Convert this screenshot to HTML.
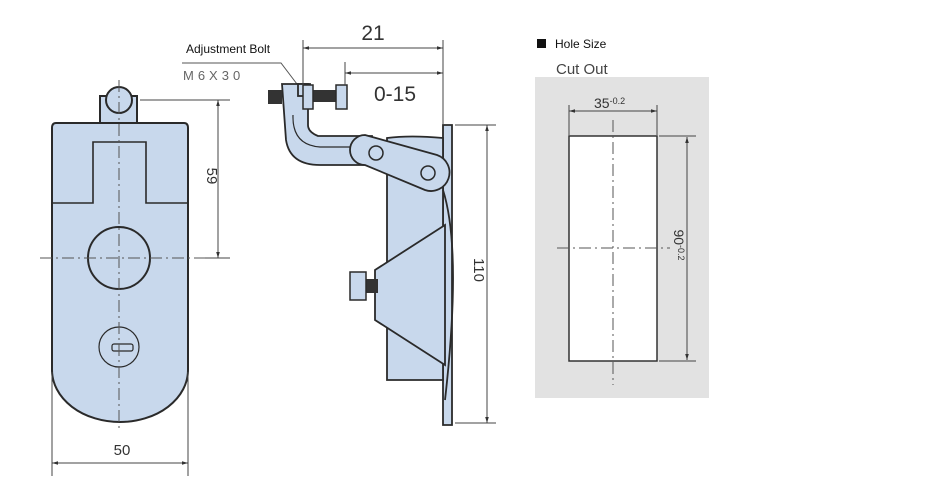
<!DOCTYPE html>
<html><head><style>
html,body{margin:0;padding:0;background:#fff;}
svg{display:block;}
text{font-family:"Liberation Sans",sans-serif;}
</style></head><body>
<svg width="950" height="500" viewBox="0 0 950 500" xmlns="http://www.w3.org/2000/svg">
<defs>
<marker id="a" viewBox="0 0 10 10" refX="10" refY="5" markerWidth="8" markerHeight="6" orient="auto-start-reverse"><path d="M0,2 L10,5 L0,8 z" fill="#333"/></marker>
</defs>
<g fill="#c8d8ec" stroke="#2a2a2a" stroke-width="2">
<!-- left front view -->
<rect x="100" y="96" width="37" height="34"/>
<circle cx="119" cy="100" r="13"/>
<path d="M56,123 H184 Q188,123 188,128 V370 A68,52 0 0 1 52,370 V128 Q52,123 56,123 Z"/>
</g>
<g fill="none" stroke="#2a2a2a">
<path d="M52,203 H93 V142 H146 V203 H188" stroke-width="1.6"/>
<circle cx="119" cy="258" r="31" stroke-width="2"/>
<circle cx="119" cy="347" r="20" stroke-width="1.2"/>
<rect x="112" y="344" width="21" height="7" rx="2" stroke-width="1.2"/>
</g>
<g stroke="#555" stroke-width="1" stroke-dasharray="12,4,2,4" fill="none">
<line x1="119" y1="80" x2="119" y2="432"/>
<line x1="40" y1="258" x2="228" y2="258"/>
</g>
<g stroke="#444" stroke-width="1" fill="none">
<line x1="140" y1="100" x2="230" y2="100"/>
<line x1="205" y1="258" x2="230" y2="258"/>
<line x1="218" y1="100" x2="218" y2="258" marker-start="url(#a)" marker-end="url(#a)"/>
<line x1="52" y1="372" x2="52" y2="476"/>
<line x1="188" y1="372" x2="188" y2="476"/>
<line x1="52" y1="463" x2="188" y2="463" marker-start="url(#a)" marker-end="url(#a)"/>
</g>
<text x="122" y="455" font-size="15" fill="#333" text-anchor="middle">50</text>
<text transform="translate(207,176) rotate(90)" font-size="15" fill="#333" text-anchor="middle">59</text>
<!-- labels -->
<text x="186" y="53" font-size="12" fill="#111">Adjustment Bolt</text>
<text x="183" y="80" font-size="13" fill="#666" letter-spacing="4">M6X30</text>
<path d="M182,63 H281 L300,88" fill="none" stroke="#555" stroke-width="1"/>

<!-- side view -->
<g fill="#c8d8ec" stroke="#2a2a2a" stroke-width="1.8">
<path d="M443,125 H452 V425 H443 Z"/>
<path d="M387,138 Q410,135 443,138 V380 H387 Z"/>
<path d="M375,270 L445,225 V365 L375,320 Z"/>
<path d="M443,190 Q462,250 445,400" fill="none"/>
<path d="M282,84 H308 V125 Q308,132 318,136 H372 V165 H320 Q290,165 286,140 Z"/>
<path d="M365,135 L437,155 A17,17 0 0 1 425,190 L365,165 A15,15 0 0 1 365,135 Z"/>
<rect x="298" y="84" width="12" height="12"/>
</g>
<path d="M293,115 Q292,145 320,147 H350" fill="none" stroke="#2a2a2a" stroke-width="1.2"/>
<g fill="#333">
<rect x="268" y="90" width="14" height="14"/>
<rect x="310" y="90" width="27" height="12"/>
<rect x="366" y="279" width="12" height="14"/>
</g>
<g fill="#c8d8ec" stroke="#2a2a2a" stroke-width="1.5">
<rect x="303" y="85" width="10" height="24"/>
<rect x="336" y="85" width="11" height="24"/>
<rect x="350" y="272" width="16" height="28"/>
<circle cx="376" cy="153" r="7"/>
<circle cx="428" cy="173" r="7"/>
</g>
<g stroke="#444" stroke-width="1" fill="none">
<line x1="303" y1="40" x2="303" y2="85"/>
<line x1="345" y1="62" x2="345" y2="85"/>
<line x1="443" y1="40" x2="443" y2="124"/>
<line x1="303" y1="48" x2="443" y2="48" marker-start="url(#a)" marker-end="url(#a)"/>
<line x1="345" y1="73" x2="443" y2="73" marker-start="url(#a)" marker-end="url(#a)"/>
<line x1="455" y1="125" x2="496" y2="125"/>
<line x1="455" y1="423" x2="496" y2="423"/>
<line x1="487" y1="125" x2="487" y2="423" marker-start="url(#a)" marker-end="url(#a)"/>
</g>
<text x="373" y="40" font-size="21" fill="#333" text-anchor="middle">21</text>
<text x="395" y="101" font-size="21" fill="#333" text-anchor="middle">0-15</text>
<text transform="translate(474,270) rotate(90)" font-size="15" fill="#333" text-anchor="middle">110</text>

<!-- cut out -->
<rect x="537" y="39" width="9" height="9" fill="#111"/>
<text x="555" y="48" font-size="12" fill="#111">Hole Size</text>
<text x="556" y="74" font-size="15" fill="#444">Cut Out</text>
<rect x="535" y="77" width="174" height="321" fill="#e2e2e2"/>
<rect x="569" y="136" width="88" height="225" fill="#fff" stroke="#333" stroke-width="1.5"/>
<g stroke="#555" stroke-width="1" stroke-dasharray="12,4,2,4">
<line x1="613" y1="120" x2="613" y2="385"/>
<line x1="557" y1="248" x2="670" y2="248"/>
</g>
<g stroke="#444" stroke-width="1" fill="none">
<line x1="569" y1="105" x2="569" y2="135"/>
<line x1="657" y1="105" x2="657" y2="135"/>
<line x1="569" y1="111" x2="657" y2="111" marker-start="url(#a)" marker-end="url(#a)"/>
<line x1="659" y1="136" x2="696" y2="136"/>
<line x1="659" y1="361" x2="696" y2="361"/>
<line x1="687" y1="137" x2="687" y2="360" marker-start="url(#a)" marker-end="url(#a)"/>
</g>
<text x="594" y="108" font-size="14" fill="#333">35<tspan font-size="9" dy="-4">-0.2</tspan></text>
<text transform="translate(674,245) rotate(90)" font-size="14" fill="#333" text-anchor="middle">90<tspan font-size="9" dy="-4">-0.2</tspan></text>
</svg>
</body></html>
